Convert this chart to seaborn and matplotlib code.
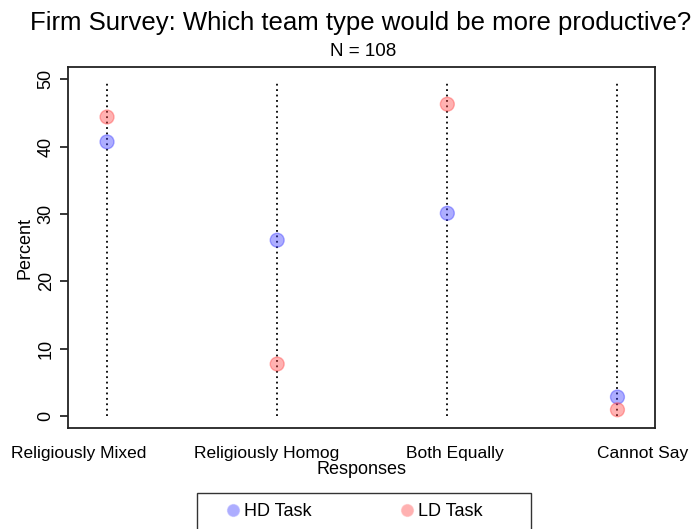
import pandas as pd
import numpy as np
import matplotlib
matplotlib.use("Agg")
import matplotlib.pyplot as plt
from matplotlib.patches import Rectangle
import seaborn as sns

# survey responses, percent of firms
responses = ["Religiously Mixed", "Religiously Homog", "Both Equally", "Cannot Say"]
hd_task = [40.7, 26.1, 30.1, 2.8]
ld_task = [44.4, 7.7, 46.3, 0.9]
tasks = ["HD Task", "LD Task"]

df = pd.DataFrame({
    "Responses": responses * 2,
    "Percent": hd_task + ld_task,
    "Task": [tasks[0]] * 4 + [tasks[1]] * 4,
})

sns.set_theme(style="ticks")
plt.rcParams["font.family"] = ["Liberation Sans", "DejaVu Sans"]
plt.rcParams["text.color"] = "black"
plt.rcParams["axes.labelcolor"] = "black"
plt.rcParams["xtick.color"] = "black"
plt.rcParams["ytick.color"] = "black"

W, H = 693, 529
fig = plt.figure(figsize=(W / 100, H / 100), dpi=100)
ax = fig.add_axes([0.098, 0.191, 0.847, 0.682])

# dotted guide lines for each category
ax.vlines(responses, 0, 49.5, colors="black", linestyles=(0, (1, 2)), linewidth=1.3, zorder=1)

sns.scatterplot(data=df, x="Responses", y="Percent", hue="Task",
                palette={"HD Task": "#3c3cff", "LD Task": "#ff4646"},
                s=100, linewidth=1.0, alpha=0.42, ax=ax, zorder=2)
for coll in ax.collections[1:]:
    coll.set_edgecolor(coll.get_facecolor())

ax.set_xlim(-0.23, 3.22)
ax.set_ylim(-1.8, 51.8)
ax.set_yticks([0, 10, 20, 30, 40, 50])
ax.tick_params(axis="y", labelrotation=90, labelsize=13, length=6, width=1.1)
for lab in ax.get_yticklabels():
    lab.set_va("center")
# category labels sit on their own evenly spread axis, as in the original
ax.set_xticks(np.arange(len(responses)) * 1.104 - 0.165, labels=responses)
ax.tick_params(axis="x", length=0, labelsize=12.5, pad=13)
ax.set_ylabel("Percent", fontsize=13, labelpad=3)
ax.set_xlabel("Responses", fontsize=13, labelpad=0)
for sp in ax.spines.values():
    sp.set_linewidth(1.3)
    sp.set_color("#222222")

fig.text(0.52, 1 - 23 / H, "Firm Survey: Which team type would be more productive?",
         ha="center", va="center", fontsize=18.5)
fig.text(0.524, 1 - 52 / H, "N = 108", ha="center", va="center", fontsize=13.5)

handles, labels = ax.get_legend_handles_labels()
ax.legend_.remove()
fig.legend(handles, labels, loc="center left", bbox_to_anchor=(224 / W, 1 - 512 / H),
           ncol=2, frameon=False, fontsize=13, columnspacing=4.8,
           handlelength=1.0, handletextpad=0.1, markerscale=0.95,
           borderpad=0, borderaxespad=0)
# legend box runs off the bottom edge like the original
fig.patches.append(Rectangle((197 / W, -0.02), (531 - 197) / W, (0.02 + 1 - 493 / H),
                             transform=fig.transFigure, fill=False,
                             edgecolor="#333333", linewidth=1.0))

fig.savefig("out.png", dpi=100)
